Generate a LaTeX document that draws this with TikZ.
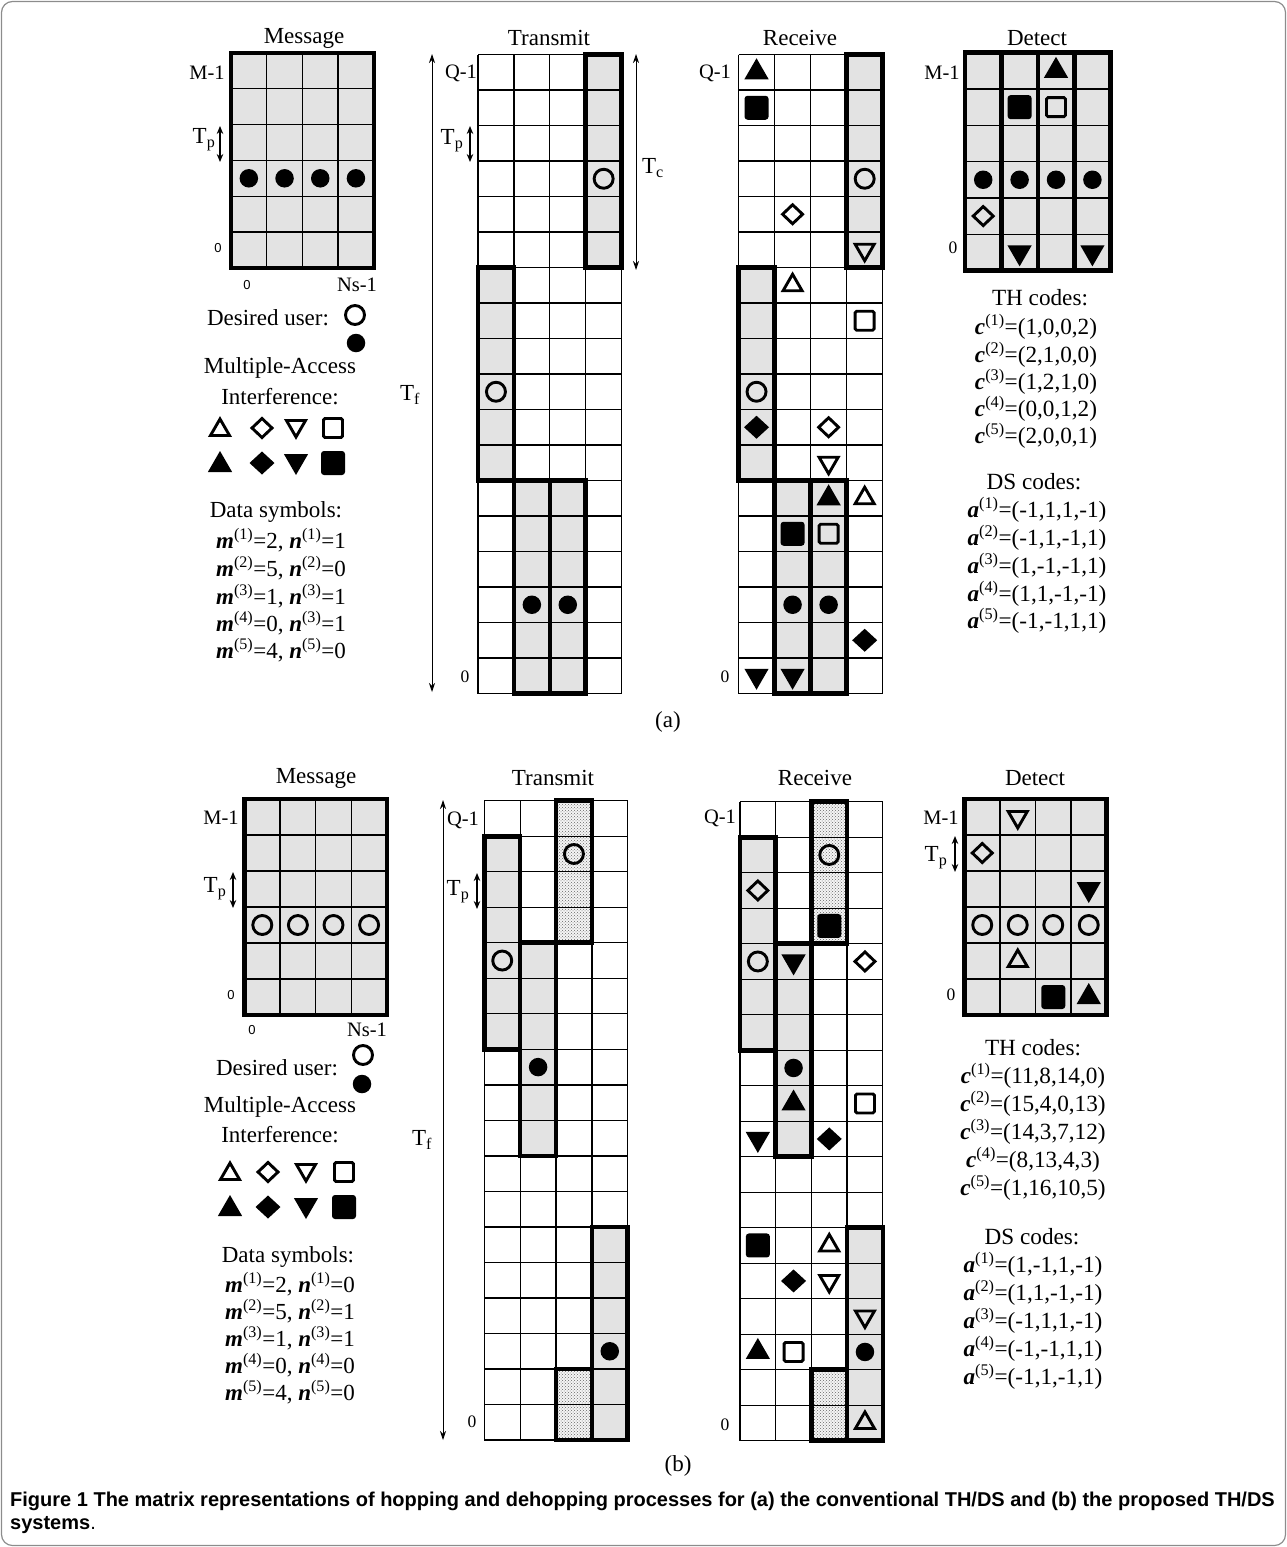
\documentclass[tikz,border=0pt]{standalone}
\usepackage{fontspec}
\setmainfont{Liberation Serif}
\newfontfamily\capfont{Liberation Sans}
\usetikzlibrary{arrows.meta,shapes.geometric,patterns}
\newcounter{syc}
\newcommand\sy[3]{\stepcounter{syc}\node[#1] (sym\arabic{syc}) at ({#2+0.5},{#3+0.5}) {};}
\newcommand\gridlines[2]{%
  \foreach \i in {0,...,#1} {\draw[thinl] (\i,0) -- (\i,#2);}
  \foreach \j in {0,...,#2} {\draw[thinl] (0,\j) -- (#1,\j);}}
\newcommand\mb[1]{\textbf{\textit{#1}}}
\newcommand\su[1]{\textsuperscript{(#1)}}
\tikzset{
  lbl/.style={font=\fontsize{23}{27}\selectfont, inner sep=0pt},
  lbls/.style={font=\fontsize{20.5}{24}\selectfont, inner sep=0pt},
  zs/.style={font=\capfont\fontsize{13}{15}\selectfont, inner sep=0pt},
  zr/.style={font=\fontsize{17.5}{20}\selectfont, inner sep=0pt},
  thinl/.style={line width=1.3pt},
  thickl/.style={line width=4.6pt, line join=miter},
  shaded/.style={fill=black!11},
  stipbase/.style={fill=black!4},
  stip/.style={pattern=crosshatch dots, pattern color=black!60},
  dbl/.style={{Stealth[length=9pt,width=6pt]}-{Stealth[length=9pt,width=6pt]}, line width=0.9pt},
  dblp/.style={{Stealth[length=8pt,width=6.5pt]}-{Stealth[length=8pt,width=6.5pt]}, line width=1.3pt},
  sym/.style={inner sep=0pt, outer sep=0pt, line width=2.9pt},
  oc/.style={sym, circle, draw, minimum size=19pt},
  fc/.style={sym, circle, fill, minimum size=18.5pt},
  otu/.style={sym, regular polygon, regular polygon sides=3, draw, minimum size=22pt},
  ftu/.style={sym, regular polygon, regular polygon sides=3, fill, minimum size=28pt},
  otd/.style={otu, shape border rotate=180},
  ftd/.style={ftu, shape border rotate=180},
  odm/.style={sym, diamond, draw, minimum width=20pt, minimum height=19pt},
  fdm/.style={sym, diamond, fill, minimum width=25pt, minimum height=23pt},
  osq/.style={sym, rectangle, draw, minimum size=19pt, rounded corners=1.5pt},
  fsq/.style={sym, rectangle, fill, minimum size=24pt, rounded corners=3pt},
  frame/.style={draw=black!45, line width=1.2pt, rounded corners=11pt},
  capn/.style={font=\capfont\fontsize{20}{22.5}\selectfont, inner sep=0pt, align=left},
  codes/.style={font=\fontsize{23.2}{27}\selectfont, inner sep=0pt}
}
\begin{document}
\begin{tikzpicture}[x=1pt,y=-1pt]
\useasboundingbox (0,0) rectangle (1287,1547);
\draw[frame] (1.5,1.5) rectangle (1285.5,1545.5);

%%%%%%%%%%%%%%%%%%%%%%%%%%%% (a)
% Message (a)
\begin{scope}[shift={(231,53)},x=35.7pt,y=-35.8pt]
  \fill[shaded] (0,0) rectangle (4,6);
  \gridlines{4}{6}
  \draw[thickl] (0,0) rectangle (4,6);
  \foreach \c in {0,...,3} {\sy{fc}{\c}{3}}
\end{scope}
\node[lbl] (aMsgT) at (304,38) {Message};
\node[lbls] (aMsgM) at (207,73) {M-1};
\node[lbl] (aMsgTp) at (204,140) {T\textsubscript{p}};
\coordinate (aMsgTp1) at (220,126);
\coordinate (aMsgTp2) at (220,162);
\draw[dblp] (aMsgTp1) -- (aMsgTp2);
\node[zs] (aMsg0) at (218,248) {0};
\node[zs] (aMsg0x) at (247,285) {0};
\node[lbls] (aMsgNs) at (357,285) {Ns-1};

% legend (a)
\node[lbl] (aDes) at (268,318) {Desired user:};
\node[oc] (aDesO) at (355,315) {};
\node[fc] (aDesF) at (356,343) {};
\node[lbl] (aMai1) at (280,368) {Multiple-Access};
\node[lbl] (aMai2) at (280,397) {Interference:};
\node[otu] (aL1) at (220,430) {};
\node[odm] (aL2) at (262,428) {};
\node[otd] (aL3) at (296,426) {};
\node[osq] (aL4) at (333,428) {};
\node[ftu] (aL5) at (220,465) {};
\node[fdm] (aL6) at (262,463) {};
\node[ftd] (aL7) at (296,461) {};
\node[fsq] (aL8) at (333,463) {};
\node[lbl] (aData) at (276,512) {Data symbols:};
\node[lbl] (aD1) at (281,540) {\mb{m}\su{1}=2, \mb{n}\su{1}=1};
\node[lbl] (aD2) at (281,568) {\mb{m}\su{2}=5, \mb{n}\su{2}=0};
\node[lbl] (aD3) at (281,596) {\mb{m}\su{3}=1, \mb{n}\su{3}=1};
\node[lbl] (aD4) at (281,623) {\mb{m}\su{4}=0, \mb{n}\su{3}=1};
\node[lbl] (aD5) at (281,650) {\mb{m}\su{5}=4, \mb{n}\su{5}=0};

% Transmit (a)
\begin{scope}[shift={(478,54.5)},x=35.9pt,y=-35.5pt]
  \fill[shaded] (3,0) rectangle (4,6);
  \fill[shaded] (0,6) rectangle (1,12);
  \fill[shaded] (1,12) rectangle (3,18);
  \gridlines{4}{18}
  \draw[thickl] (3,0) rectangle (4,6);
  \draw[thickl] (0,6) rectangle (1,12);
  \draw[thickl] (1,12) rectangle (2,18);
  \draw[thickl] (2,12) rectangle (3,18);
  \sy{oc}{3}{3}
  \sy{oc}{0}{9}
  \sy{fc}{1}{15}
  \sy{fc}{2}{15}
\end{scope}
\node[lbl] (aTrT) at (549,38) {Transmit};
\coordinate (aTf1) at (432,54);
\coordinate (aTf2) at (432,692);
\draw[dbl] (aTf1) -- (aTf2);
\node[lbl] (aTf) at (410,395) {T\textsubscript{f}};
\node[lbls] (aTrQ) at (461,73) {Q-1};
\node[lbl] (aTrTp) at (452,141) {T\textsubscript{p}};
\coordinate (aTrTp1) at (470,126);
\coordinate (aTrTp2) at (470,162);
\draw[dblp] (aTrTp1) -- (aTrTp2);
\coordinate (aTc1) at (636,54);
\coordinate (aTc2) at (636,270);
\draw[dbl] (aTc1) -- (aTc2);
\node[lbl] (aTc) at (653,168) {T\textsubscript{c}};
\node[zr] (aTr0) at (465,677) {0};

% Receive (a)
\begin{scope}[shift={(738.5,54.5)},x=36.05pt,y=-35.5pt]
  \fill[shaded] (3,0) rectangle (4,6);
  \fill[shaded] (0,6) rectangle (1,12);
  \fill[shaded] (1,12) rectangle (3,18);
  \gridlines{4}{18}
  \draw[thickl] (3,0) rectangle (4,6);
  \draw[thickl] (0,6) rectangle (1,12);
  \draw[thickl] (1,12) rectangle (2,18);
  \draw[thickl] (2,12) rectangle (3,18);
  \sy{ftu}{0}{0}
  \sy{fsq}{0}{1}
  \sy{oc}{3}{3}
  \sy{odm}{1}{4}
  \sy{otd}{3}{5}
  \sy{otu}{1}{6}
  \sy{osq}{3}{7}
  \sy{oc}{0}{9}
  \sy{fdm}{0}{10}
  \sy{odm}{2}{10}
  \sy{otd}{2}{11}
  \sy{ftu}{2}{12}
  \sy{otu}{3}{12}
  \sy{fsq}{1}{13}
  \sy{osq}{2}{13}
  \sy{fc}{1}{15}
  \sy{fc}{2}{15}
  \sy{fdm}{3}{16}
  \sy{ftd}{0}{17}
  \sy{ftd}{1}{17}
\end{scope}
\node[lbl] (aRcT) at (800,38) {Receive};
\node[lbls] (aRcQ) at (715,73) {Q-1};
\node[zr] (aRc0) at (725,677) {0};

% Detect (a)
\begin{scope}[shift={(965,52.7)},x=36.4pt,y=-36.3pt]
  \fill[shaded] (0,0) rectangle (4,6);
  \gridlines{4}{6}
  \foreach \c in {1,2,3} {\draw[thickl] (\c,0) -- (\c,6);}
  \draw[thickl] (0,0) rectangle (4,6);
  \sy{ftu}{2}{0}
  \sy{fsq}{1}{1}
  \sy{osq}{2}{1}
  \foreach \c in {0,...,3} {\sy{fc}{\c}{3}}
  \sy{odm}{0}{4}
  \sy{ftd}{1}{5}
  \sy{ftd}{3}{5}
\end{scope}
\node[lbl] (aDtT) at (1037,38) {Detect};
\node[lbls] (aDtM) at (942,73) {M-1};
\node[zr] (aDt0) at (953,248) {0};

\node[codes] (aTH) at (1040,298) {TH codes:};
\node[codes] (aC1) at (1036,327) {\mb{c}\su{1}=(1,0,0,2)};
\node[codes] (aC2) at (1036,355) {\mb{c}\su{2}=(2,1,0,0)};
\node[codes] (aC3) at (1036,382) {\mb{c}\su{3}=(1,2,1,0)};
\node[codes] (aC4) at (1036,409) {\mb{c}\su{4}=(0,0,1,2)};
\node[codes] (aC5) at (1036,436) {\mb{c}\su{5}=(2,0,0,1)};
\node[codes] (aDS) at (1034,482) {DS codes:};
\node[codes] (aA1) at (1037,510) {\mb{a}\su{1}=(-1,1,1,-1)};
\node[codes] (aA2) at (1037,538) {\mb{a}\su{2}=(-1,1,-1,1)};
\node[codes] (aA3) at (1037,566) {\mb{a}\su{3}=(1,-1,-1,1)};
\node[codes] (aA4) at (1037,594) {\mb{a}\su{4}=(1,1,-1,-1)};
\node[codes] (aA5) at (1037,621) {\mb{a}\su{5}=(-1,-1,1,1)};

\node[lbl] (aTag) at (668,722) {(a)};

%%%%%%%%%%%%%%%%%%%%%%%%%%%% (b)
% Message (b)
\begin{scope}[shift={(244.5,799)},x=35.6pt,y=-36pt]
  \fill[shaded] (0,0) rectangle (4,6);
  \gridlines{4}{6}
  \draw[thickl] (0,0) rectangle (4,6);
  \foreach \c in {0,...,3} {\sy{oc}{\c}{3}}
\end{scope}
\node[lbl] (bMsgT) at (316,778) {Message};
\node[lbls] (bMsgM) at (221,818) {M-1};
\node[lbl] (bMsgTp) at (215,889) {T\textsubscript{p}};
\coordinate (bMsgTp1) at (233,872);
\coordinate (bMsgTp2) at (233,908);
\draw[dblp] (bMsgTp1) -- (bMsgTp2);
\node[zs] (bMsg0) at (231,995) {0};
\node[zs] (bMsg0x) at (252,1030) {0};
\node[lbls] (bMsgNs) at (367,1030) {Ns-1};

% legend (b)
\node[lbl] (bDes) at (277,1068) {Desired user:};
\node[oc] (bDesO) at (363,1055) {};
\node[fc] (bDesF) at (362,1084) {};
\node[lbl] (bMai1) at (280,1107) {Multiple-Access};
\node[lbl] (bMai2) at (280,1135) {Interference:};
\node[otu] (bL1) at (230,1174) {};
\node[odm] (bL2) at (268,1172) {};
\node[otd] (bL3) at (306,1170) {};
\node[osq] (bL4) at (344,1172) {};
\node[ftu] (bL5) at (230,1209) {};
\node[fdm] (bL6) at (268,1207) {};
\node[ftd] (bL7) at (306,1205) {};
\node[fsq] (bL8) at (344,1207) {};
\node[lbl] (bData) at (288,1257) {Data symbols:};
\node[lbl] (bD1) at (290,1284) {\mb{m}\su{1}=2, \mb{n}\su{1}=0};
\node[lbl] (bD2) at (290,1311) {\mb{m}\su{2}=5, \mb{n}\su{2}=1};
\node[lbl] (bD3) at (290,1338) {\mb{m}\su{3}=1, \mb{n}\su{3}=1};
\node[lbl] (bD4) at (290,1365) {\mb{m}\su{4}=0, \mb{n}\su{4}=0};
\node[lbl] (bD5) at (290,1392) {\mb{m}\su{5}=4, \mb{n}\su{5}=0};

% Transmit (b)
\begin{scope}[shift={(484.3,800.7)},x=35.85pt,y=-35.52pt]
  \fill[stipbase] (2,0) rectangle (3,4);
  \fill[stip] (2,0) rectangle (3,4);
  \fill[stipbase] (2,16) rectangle (3,18);
  \fill[stip] (2,16) rectangle (3,18);
  \fill[shaded] (0,1) rectangle (1,7);
  \fill[shaded] (1,4) rectangle (2,10);
  \fill[shaded] (3,12) rectangle (4,18);
  \gridlines{4}{18}
  \draw[thickl] (2,0) rectangle (3,4);
  \draw[thickl] (2,16) rectangle (3,18);
  \draw[thickl] (0,1) rectangle (1,7);
  \draw[thickl] (1,4) rectangle (2,10);
  \draw[thickl] (3,12) rectangle (4,18);
  \sy{oc}{2}{1}
  \sy{oc}{0}{4}
  \sy{fc}{1}{7}
  \sy{fc}{3}{15}
\end{scope}
\node[lbl] (bTrT) at (553,778) {Transmit};
\coordinate (bTf1) at (443,800);
\coordinate (bTf2) at (443,1440);
\draw[dbl] (bTf1) -- (bTf2);
\node[lbl] (bTf) at (422,1140) {T\textsubscript{f}};
\node[lbls] (bTrQ) at (463,820) {Q-1};
\node[lbl] (bTrTp) at (458,892) {T\textsubscript{p}};
\coordinate (bTrTp1) at (477,873);
\coordinate (bTrTp2) at (477,909);
\draw[dblp] (bTrTp1) -- (bTrTp2);
\node[zr] (bTr0) at (472,1422) {0};

% Receive (b)
\begin{scope}[shift={(740,801.7)},x=35.7pt,y=-35.5pt]
  \fill[stipbase] (2,0) rectangle (3,4);
  \fill[stip] (2,0) rectangle (3,4);
  \fill[stipbase] (2,16) rectangle (3,18);
  \fill[stip] (2,16) rectangle (3,18);
  \fill[shaded] (0,1) rectangle (1,7);
  \fill[shaded] (1,4) rectangle (2,10);
  \fill[shaded] (3,12) rectangle (4,18);
  \gridlines{4}{18}
  \draw[thickl] (2,0) rectangle (3,4);
  \draw[thickl] (2,16) rectangle (3,18);
  \draw[thickl] (0,1) rectangle (1,7);
  \draw[thickl] (1,4) rectangle (2,10);
  \draw[thickl] (3,12) rectangle (4,18);
  \sy{oc}{2}{1}
  \sy{odm}{0}{2}
  \sy{fsq}{2}{3}
  \sy{oc}{0}{4}
  \sy{ftd}{1}{4}
  \sy{odm}{3}{4}
  \sy{fc}{1}{7}
  \sy{ftu}{1}{8}
  \sy{osq}{3}{8}
  \sy{ftd}{0}{9}
  \sy{fdm}{2}{9}
  \sy{fsq}{0}{12}
  \sy{otu}{2}{12}
  \sy{fdm}{1}{13}
  \sy{otd}{2}{13}
  \sy{otd}{3}{14}
  \sy{ftu}{0}{15}
  \sy{osq}{1}{15}
  \sy{fc}{3}{15}
  \sy{otu}{3}{17}
\end{scope}
\node[lbl] (bRcT) at (815,778) {Receive};
\node[lbls] (bRcQ) at (720,818) {Q-1};
\node[zr] (bRc0) at (725,1425) {0};

% Detect (b)
\begin{scope}[shift={(964.5,799)},x=35.5pt,y=-36pt]
  \fill[shaded] (0,0) rectangle (4,6);
  \gridlines{4}{6}
  \draw[thickl] (0,0) rectangle (4,6);
  \sy{otd}{1}{0}
  \sy{odm}{0}{1}
  \sy{ftd}{3}{2}
  \foreach \c in {0,...,3} {\sy{oc}{\c}{3}}
  \sy{otu}{1}{4}
  \sy{fsq}{2}{5}
  \sy{ftu}{3}{5}
\end{scope}
\node[lbl] (bDtT) at (1035,778) {Detect};
\node[lbls] (bDtM) at (941,818) {M-1};
\node[lbl] (bDtTp) at (936,858) {T\textsubscript{p}};
\coordinate (bDtTp1) at (955,836);
\coordinate (bDtTp2) at (955,872);
\draw[dblp] (bDtTp1) -- (bDtTp2);
\node[zr] (bDt0) at (951,995) {0};

\node[codes] (bTH) at (1033,1048) {TH codes:};
\node[codes] (bC1) at (1033,1076) {\mb{c}\su{1}=(11,8,14,0)};
\node[codes] (bC2) at (1033,1104) {\mb{c}\su{2}=(15,4,0,13)};
\node[codes] (bC3) at (1033,1132) {\mb{c}\su{3}=(14,3,7,12)};
\node[codes] (bC4) at (1033,1160) {\mb{c}\su{4}=(8,13,4,3)};
\node[codes] (bC5) at (1033,1188) {\mb{c}\su{5}=(1,16,10,5)};
\node[codes] (bDS) at (1032,1237) {DS codes:};
\node[codes] (bA1) at (1033,1265) {\mb{a}\su{1}=(1,-1,1,-1)};
\node[codes] (bA2) at (1033,1293) {\mb{a}\su{2}=(1,1,-1,-1)};
\node[codes] (bA3) at (1033,1321) {\mb{a}\su{3}=(-1,1,1,-1)};
\node[codes] (bA4) at (1033,1349) {\mb{a}\su{4}=(-1,-1,1,1)};
\node[codes] (bA5) at (1033,1377) {\mb{a}\su{5}=(-1,1,-1,1)};

\node[lbl] (bTag) at (678,1466) {(b)};

% caption
\node[capn, anchor=north west] (cap) at (10,1492)
  {\textbf{Figure 1 The matrix representations of hopping and dehopping processes for (a) the conventional TH/DS and (b) the proposed TH/DS}\\\textbf{systems}.};
\end{tikzpicture}
\end{document}
